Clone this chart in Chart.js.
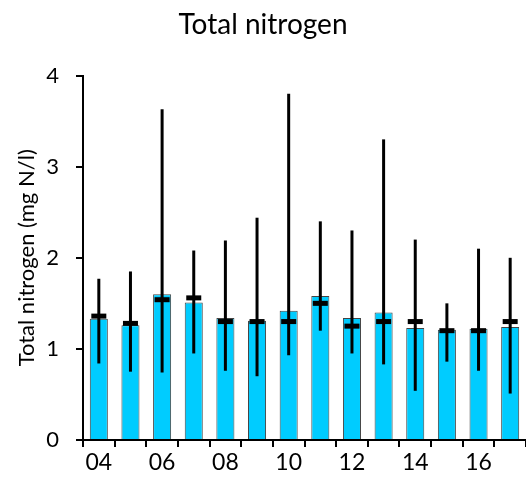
<!DOCTYPE html>
<html>
<head>
<meta charset="utf-8">
<script src="https://cdn.jsdelivr.net/npm/chart.js@4"></script>
<style>
  body { margin: 0; background: #fff; }
  canvas { display: block; }
</style>
</head>
<body>
<canvas id="myChart" width="526" height="477"></canvas>
<script>
// years 2004 - 2017
const years = ['04','05','06','07','08','09','10','11','12','13','14','15','16','17'];
const meanValues = [1.33, 1.26, 1.60, 1.51, 1.34, 1.31, 1.42, 1.58, 1.34, 1.40, 1.23, 1.21, 1.22, 1.24];
const medianValues = [1.36, 1.28, 1.54, 1.56, 1.30, 1.30, 1.30, 1.50, 1.25, 1.30, 1.30, 1.20, 1.20, 1.30];
const maxValues = [1.77, 1.85, 3.63, 2.08, 2.19, 2.44, 3.80, 2.40, 2.30, 3.30, 2.20, 1.50, 2.10, 2.00];
const minValues = [0.84, 0.75, 0.74, 0.95, 0.76, 0.70, 0.93, 1.20, 0.95, 0.83, 0.54, 0.86, 0.76, 0.51];
const yTicks = [0, 1, 2, 3, 4];

const fontName = 'Lato, "Open Sans", sans-serif';

// draws the min-max lines and the median dash on every bar
const rangePlugin = {
  id: 'rangePlugin',
  afterDatasetsDraw(chart) {
    let ctx = chart.ctx;
    let meta = chart.getDatasetMeta(0);
    let y = chart.scales.y;
    ctx.save();
    ctx.strokeStyle = '#000';
    ctx.fillStyle = '#000';
    for (let i = 0; i < meta.data.length; i++) {
      let x = meta.data[i].x;
      ctx.lineWidth = 3;
      ctx.beginPath();
      ctx.moveTo(x, y.getPixelForValue(minValues[i]));
      ctx.lineTo(x, y.getPixelForValue(maxValues[i]));
      ctx.stroke();
      let my = y.getPixelForValue(medianValues[i]);
      ctx.fillRect(x - 7.5, my - 2.5, 15, 5);
    }
    ctx.restore();
  }
};

const ctx = document.getElementById('myChart').getContext('2d');
new Chart(ctx, {
  type: 'bar',
  data: {
    labels: years,
    datasets: [{
      data: meanValues,
      backgroundColor: '#00CCFF',
      borderColor: '#444',
      borderWidth: 1,
      categoryPercentage: 1,
      barPercentage: 0.57
    }]
  },
  options: {
    responsive: false,
    animation: false,
    layout: { padding: { left: 0, right: 0, top: 0, bottom: 0 } },
    plugins: {
      legend: { display: false },
      tooltip: { enabled: false },
      title: {
        display: true,
        text: 'Total nitrogen',
        color: '#000',
        font: { family: fontName, size: 28, weight: 'normal' },
        padding: { top: 8, bottom: 34 }
      }
    },
    scales: {
      x: {
        offset: true,
        afterFit: function(scale) { scale.height = 37; },
        grid: {
          offset: true,
          drawOnChartArea: false,
          drawTicks: true,
          tickLength: 7,
          color: '#000',
          lineWidth: 2
        },
        border: { color: '#000', width: 2 },
        ticks: {
          autoSkip: false,
          maxRotation: 0,
          color: '#000',
          padding: 2,
          font: { family: fontName, size: 23 },
          callback: function(value, index) {
            return index % 2 == 0 ? years[index] : '';
          }
        }
      },
      y: {
        min: 0,
        max: 4,
        afterFit: function(scale) { scale.width = 83; },
        afterBuildTicks: function(scale) {
          scale.ticks = yTicks.map(v => ({ value: v }));
        },
        grid: {
          drawOnChartArea: false,
          drawTicks: true,
          tickLength: 7,
          color: '#000',
          lineWidth: 2
        },
        border: { color: '#000', width: 2 },
        ticks: {
          color: '#000',
          padding: 17,
          font: { family: fontName, size: 22 }
        },
        title: {
          display: true,
          text: 'Total nitrogen (mg N/l)',
          color: '#000',
          font: { family: fontName, size: 22 },
          padding: { top: 14, bottom: 6 }
        }
      }
    }
  },
  plugins: [rangePlugin]
});
</script>
</body>
</html>
